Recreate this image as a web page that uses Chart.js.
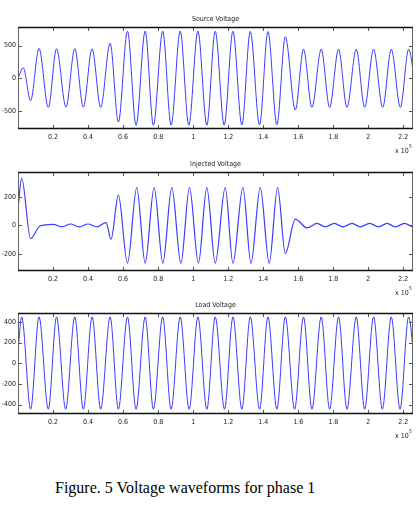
<!DOCTYPE html>
<html>
<head>
<meta charset="utf-8">
<script src="https://cdn.jsdelivr.net/npm/chart.js@4.4.1/dist/chart.umd.min.js"></script>
<style>
  html, body { margin:0; padding:0; background:#fff; }
  body { width:419px; height:514px; position:relative; overflow:hidden; }
  canvas { position:absolute; left:0; }
  #caption { position:absolute; left:55px; top:479px; font-family:"Liberation Serif","Times New Roman",serif; font-size:16px; color:#000; white-space:nowrap; }
</style>
</head>
<body>
<canvas id="c1" width="419" height="160" style="top:0px"></canvas>
<canvas id="c2" width="419" height="140" style="top:160px"></canvas>
<canvas id="c3" width="419" height="160" style="top:300px"></canvas>
<div id="caption">Figure. 5 Voltage waveforms for phase 1</div>
<script>
// ---- data (time x 10^5, extrema) ----
const xTicks = [0.2, 0.4, 0.6, 0.8, 1, 1.2, 1.4, 1.6, 1.8, 2, 2.2];

const sourceT = [0, 0.03, 0.072, 0.12, 0.173, 0.22, 0.274, 0.324, 0.373, 0.423, 0.472, 0.526, 0.573, 0.625, 0.674, 0.726, 0.773, 0.826, 0.874, 0.926, 0.975, 1.027, 1.078, 1.126, 1.177, 1.227, 1.278, 1.326, 1.379, 1.427, 1.478, 1.526, 1.583, 1.63, 1.678, 1.731, 1.779, 1.83, 1.878, 1.931, 1.979, 2.03, 2.082, 2.131, 2.183, 2.23, 2.28];
const sourceV = [0, 160, -345, 455, -448, 452, -445, 452, -445, 450, -448, 535, -672, 722, -722, 722, -722, 722, -722, 722, -722, 722, -722, 720, -720, 720, -718, 718, -718, 715, -715, 635, -488, 443, -448, 443, -448, 443, -448, 443, -448, 443, -448, 443, -448, 443, -448];
const sourceTicks = [-500, 0, 500];

const injT = [0, 0.021, 0.072, 0.125, 0.2, 0.25, 0.3, 0.35, 0.4, 0.45, 0.503, 0.531, 0.573, 0.625, 0.678, 0.726, 0.777, 0.827, 0.878, 0.93, 0.979, 1.03, 1.078, 1.126, 1.183, 1.227, 1.284, 1.33, 1.383, 1.434, 1.482, 1.526, 1.583, 1.65, 1.707, 1.754, 1.806, 1.855, 1.907, 1.954, 2.008, 2.059, 2.107, 2.154, 2.207, 2.257, 2.31];
const injV = [120, 330, -92, -4, 8, -10, 10, -10, 10, -10, 20, -98, 212, -265, 265, -265, 265, -265, 265, -265, 265, -265, 265, -265, 265, -265, 265, -265, 265, -265, 265, -197, 44, -17, 14, -10, 14, -10, 14, -10, 14, -10, 14, -10, 14, -10, 14];
const injTicks = [-200, 0, 200];

const loadT = [0, 0.021, 0.072, 0.12, 0.173, 0.22, 0.272, 0.324, 0.373, 0.423, 0.472, 0.526, 0.573, 0.625, 0.674, 0.726, 0.773, 0.826, 0.874, 0.926, 0.977, 1.027, 1.078, 1.126, 1.179, 1.227, 1.278, 1.326, 1.379, 1.427, 1.478, 1.526, 1.579, 1.63, 1.678, 1.731, 1.779, 1.83, 1.878, 1.931, 1.979, 2.03, 2.08, 2.131, 2.181, 2.23, 2.28];
const loadV = [110, 447, -444, 447, -444, 447, -444, 447, -444, 447, -444, 447, -444, 447, -444, 447, -444, 447, -444, 447, -444, 447, -444, 447, -444, 447, -444, 447, -444, 447, -444, 447, -444, 447, -444, 447, -444, 447, -444, 447, -444, 447, -444, 447, -444, 447, -444];
const loadTicks = [-400, -200, 0, 200, 400];

const titles = ["Source Voltage", "Injected Voltage", "Load Voltage"];

// ---- drawing ----
const tickFont = { family: "'Liberation Sans Narrow','DejaVu Sans Condensed','Liberation Sans',sans-serif", size: 7 };

const matlabBox = {
  id: 'matlabBox',
  afterDraw(chart, args, opts) {
    const ctx = chart.ctx, a = chart.chartArea;
    const xs = chart.scales.x, ys = chart.scales.y;
    ctx.save();
    // inward ticks
    ctx.strokeStyle = '#555';
    ctx.lineWidth = 1;
    ctx.beginPath();
    xs.ticks.forEach(t => {
      const px = Math.round(xs.getPixelForValue(t.value)) + 0.5;
      ctx.moveTo(px, a.bottom); ctx.lineTo(px, a.bottom - 4);
      ctx.moveTo(px, a.top); ctx.lineTo(px, a.top + 4);
    });
    ys.ticks.forEach(t => {
      const py = Math.round(ys.getPixelForValue(t.value)) + 0.5;
      ctx.moveTo(a.left, py); ctx.lineTo(a.left + 4, py);
      ctx.moveTo(a.right, py); ctx.lineTo(a.right - 4, py);
    });
    ctx.stroke();
    // box
    ctx.strokeStyle = '#666';
    ctx.beginPath();
    ctx.moveTo(Math.round(a.left) + 0.5, a.top); ctx.lineTo(Math.round(a.left) + 0.5, a.bottom);
    ctx.moveTo(Math.round(a.right) - 0.5, a.top); ctx.lineTo(Math.round(a.right) - 0.5, a.bottom);
    ctx.stroke();
    ctx.strokeStyle = '#111';
    ctx.lineWidth = 1.5;
    ctx.beginPath();
    ctx.moveTo(a.left, Math.round(a.top) + 0.5); ctx.lineTo(a.right, Math.round(a.top) + 0.5);
    ctx.moveTo(a.left, Math.round(a.bottom) - 0.5); ctx.lineTo(a.right, Math.round(a.bottom) - 0.5);
    ctx.stroke();
    // title
    ctx.fillStyle = '#222';
    ctx.font = "7px " + tickFont.family;
    ctx.textAlign = 'center';
    ctx.textBaseline = 'alphabetic';
    ctx.fillText(opts.title, (a.left + a.right) / 2, a.top - 6);
    // exponent label
    ctx.textAlign = 'left';
    ctx.fillText('x 10', a.right - 18, a.bottom + 24);
    ctx.font = "5px " + tickFont.family;
    ctx.fillText('5', a.right - 4, a.bottom + 19);
    ctx.restore();
  }
};

function makeChart(id, T, V, yTicks, yMin, yMax, padTop, xAxisH, title, lw) {
  const pts = T.map((t, i) => ({ x: t, y: V[i] }));
  return new Chart(document.getElementById(id), {
    type: 'line',
    data: { datasets: [{ data: pts, borderColor: 'rgb(60,60,255)', borderWidth: lw, pointRadius: 0, cubicInterpolationMode: 'monotone', fill: false }] },
    options: {
      responsive: false, animation: false, events: [],
      layout: { padding: { left: 0, right: 6, top: padTop, bottom: 0 } },
      plugins: { legend: { display: false }, tooltip: { enabled: false }, matlabBox: { title: title } },
      scales: {
        x: {
          type: 'linear', min: 0, max: 2.255,
          afterBuildTicks: s => { s.ticks = xTicks.map(v => ({ value: v })); },
          afterFit: s => { s.height = xAxisH; },
          grid: { display: false, drawTicks: false }, border: { display: false },
          ticks: { font: tickFont, color: '#222', padding: 4, maxRotation: 0, autoSkip: false, callback: v => String(v) }
        },
        y: {
          type: 'linear', min: yMin, max: yMax,
          afterBuildTicks: s => { s.ticks = yTicks.map(v => ({ value: v })); },
          afterFit: s => { s.width = 18; },
          grid: { display: false, drawTicks: false }, border: { display: false },
          ticks: { font: tickFont, color: '#222', padding: 2, autoSkip: false, callback: v => String(v) }
        }
      }
    },
    plugins: [matlabBox]
  });
}

makeChart('c1', sourceT, sourceV, sourceTicks, -780, 785, 27, 31, titles[0], 1);
makeChart('c2', injT, injV, injTicks, -320, 375, 12, 29, titles[1], 1.2);
makeChart('c3', loadT, loadV, loadTicks, -490, 485, 13, 46, titles[2], 1);
</script>
</body>
</html>
